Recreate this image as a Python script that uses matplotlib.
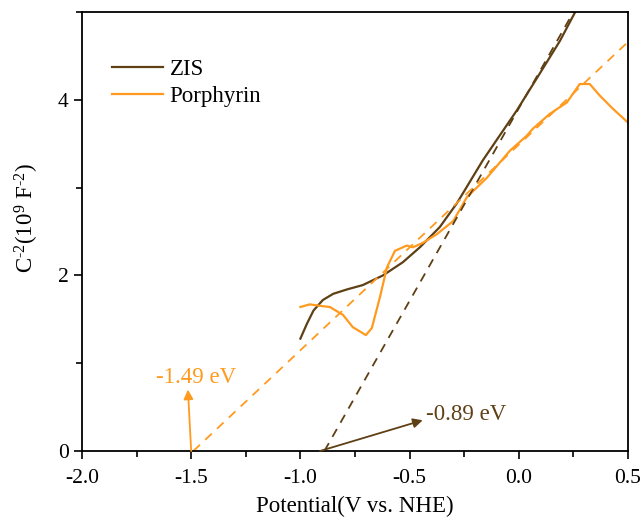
import matplotlib
matplotlib.use('Agg')
import matplotlib.pyplot as plt
from matplotlib.ticker import MultipleLocator
import numpy as np

plt.rcParams['font.family'] = ['Liberation Serif', 'DejaVu Serif']
plt.rcParams['mathtext.fontset'] = 'custom'
plt.rcParams['mathtext.rm'] = 'Liberation Serif'
plt.rcParams['mathtext.it'] = 'Liberation Serif:italic'

# Mott-Schottky data
zis_v = [-1.0, -0.97, -0.94, -0.897, -0.85, -0.787, -0.714, -0.622, -0.531, -0.453,
         -0.362, -0.284, -0.165, -0.009, 0.096, 0.188, 0.256]
zis_c = [1.28, 1.45, 1.6, 1.72, 1.79, 1.84, 1.89, 2.0, 2.15, 2.32,
         2.55, 2.82, 3.31, 3.88, 4.30, 4.67, 4.99]

por_v = [-1.0, -0.957, -0.9, -0.865, -0.805, -0.76, -0.70, -0.673, -0.636, -0.604,
         -0.567, -0.513, -0.485, -0.44, -0.375, -0.30, -0.238, -0.147, -0.041,
         0.036, 0.064, 0.142, 0.22, 0.279, 0.325, 0.37, 0.43, 0.5]
por_c = [1.64, 1.67, 1.65, 1.64, 1.55, 1.41, 1.32, 1.40, 1.75, 2.09,
         2.28, 2.34, 2.32, 2.37, 2.47, 2.62, 2.89, 3.11, 3.42,
         3.59, 3.67, 3.84, 3.97, 4.18, 4.18, 4.05, 3.9, 3.74]

# tangent lines (x-intercept, end point)
zis_fit_v = [-0.89, 0.25]
zis_fit_c = [0.0, 5.0]
por_fit_v = [-1.49, 0.5]
por_fit_c = [0.0, 4.66]

brown = '#5f4015'
orange = '#ff9a1f'

fig = plt.figure(figsize=(6.43, 5.23), dpi=100)
ax = fig.add_axes([0.1275, 0.1377, 0.8492, 0.8393])

ax.plot(zis_v, zis_c, color=brown, lw=1.6, label='ZIS')
ax.plot(por_v, por_c, color=orange, lw=1.6, label='Porphyrin')
ax.plot(zis_fit_v, zis_fit_c, color=brown, lw=1.3, ls=(0, (5, 4)))
ax.plot(por_fit_v, por_fit_c, color=orange, lw=1.3, ls=(0, (5, 4)))

# band edge annotations
ax.annotate('', xy=(-1.515, 0.7), xytext=(-1.5, 0.0),
            arrowprops=dict(arrowstyle='-|>', color=orange, lw=1.3,
                            shrinkA=0, shrinkB=0, mutation_scale=14))
ax.text(-1.478, 0.84, '-1.49 eV', color=orange, fontsize=16.5,
        ha='center', va='center')
ax.annotate('', xy=(-0.44, 0.35), xytext=(-0.91, 0.0),
            arrowprops=dict(arrowstyle='-|>', color=brown, lw=1.3,
                            shrinkA=0, shrinkB=0, mutation_scale=14))
ax.text(-0.425, 0.41, '-0.89 eV', color=brown, fontsize=16.5,
        ha='left', va='center')

ax.set_xlim(-2.0, 0.5)
ax.set_ylim(0, 5.0)
ax.xaxis.set_minor_locator(MultipleLocator(0.25))
ax.yaxis.set_minor_locator(MultipleLocator(1))
ax.set_xticks([-2.0, -1.5, -1.0, -0.5, 0.0, 0.5])
ax.set_xticklabels(['-2.0', '-1.5', '-1.0', '-0.5', '0.0', '0.5'])
ax.set_yticks([0, 2, 4])
ax.tick_params(which='major', direction='out', length=6, width=1.2, labelsize=15.5)
ax.tick_params(axis='x', which='major', pad=7)
ax.tick_params(which='minor', direction='out', length=4, width=1.2)
for s in ax.spines.values():
    s.set_linewidth(1.3)

ax.set_xlabel('Potential(V vs. NHE)', fontsize=16.5, labelpad=6)
ax.set_ylabel(r'C$^{\text{-}2}$(10$^{9}$ F$^{\text{-}2}$)', fontsize=16.5)
ax.yaxis.set_label_coords(-0.075, 0.53)

ax.legend(loc='upper left', bbox_to_anchor=(0.018, 0.94), frameon=False,
          fontsize=16.5, handlelength=2.2, handletextpad=0.3, labelspacing=0.25,
          borderaxespad=0.5)

fig.savefig('out.png', dpi=100)
